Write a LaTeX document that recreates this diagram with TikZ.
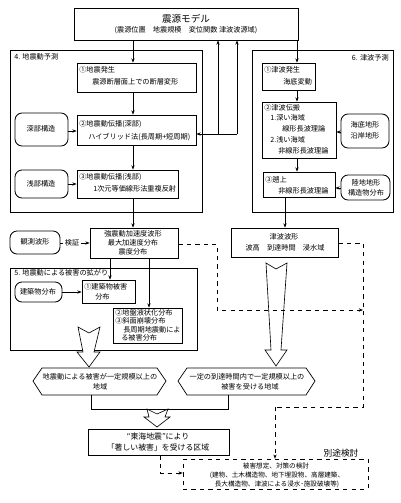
\documentclass[tikz,border=0pt]{standalone}
\usepackage{fontspec}
\setmainfont{Noto Sans CJK JP}
\usetikzlibrary{fit,arrows.meta}

\begin{document}
\begin{tikzpicture}[x=0.25mm, y=-0.25mm,
  every node/.style={inner sep=0pt, font=\fontsize{5.1}{6}\selectfont},
  box/.style={draw, line width=0.6pt, inner sep=0pt},
  area/.style={draw, line width=0.4pt, inner sep=0pt},
  rbox/.style={draw, line width=0.6pt, rounded corners=5pt, inner sep=0pt},
  dbox/.style={draw, dashed, line width=0.5pt, inner sep=0pt},
  arr/.style={-{Stealth[length=3pt,width=2.4pt]}, line width=0.45pt},
  darr/.style={arr, dashed},
  hollow/.style={draw, fill=white, line width=0.45pt}]
\useasboundingbox (0,0) rectangle (400,503);
\coordinate (cL) at (133,0);
\coordinate (cR) at (297,0);

% source model
\node[box, fit={(74,8) (298,40)}] (src) {};
\node[font=\fontsize{6.8}{8}\selectfont] (srct) at (186,19) {震源モデル};
\node (srcs) at (186,30) {(震源位置　地震規模　変位関数 津波波源域)};

% 4. ground motion
\node[area, fit={(10,50) (202,212)}] (gm) {};
\node[anchor=west] (gml) at (14,57) {4. 地震動予測};
\node[box, fit={(77,63) (196,92)}] (gm1) {};
\node[anchor=west] at (79,70) {①地震発生};
\node[anchor=west] at (92,82) {震源断層面上での断層変形};
\node[box, fit={(77,115) (196,145)}] (gm2) {};
\node[anchor=west] at (79,124) {②地震動伝播(深部)};
\node[anchor=west] at (88,137) {ハイブリッド法(長周期+短周期)};
\node[box, fit={(77,170) (178,198)}] (gm3) {};
\node[anchor=west] at (79,177) {③地震動伝播(浅部)};
\node[anchor=west] at (93,189) {1次元等価線形法重複反射};
\node[rbox, fit={(15,113) (68,146)}] (deep) {};
\node at (41,129) {深部構造};
\node[rbox, fit={(15,170) (68,198)}] (shal) {};
\node at (41,184) {浅部構造};
\draw[arr] (src.south -| cL) -- (gm1.north -| cL);
\draw[arr] (gm1.south -| cL) -- (gm2.north -| cL);
\draw[arr] (gm2.south -| cL) -- (gm3.north -| cL);
\draw[arr] (deep.east |- 0,131) -- (gm2.west |- 0,131);
\draw[arr] (shal) -- (gm3);

% links between source and deep propagation
\coordinate (fb1) at (218,134);
\coordinate (fb2) at (237,134);
\draw[arr] (fb2) -- (gm2.east |- fb2);
\draw[arr] (fb1) -- (src.south -| fb1);
\draw[arr] (fb2) -- (src.south -| fb2);

% strong motion
\node[box, fit={(90,228) (178,258)}] (sm) {};
\node at (133,234) {強震動加速度波形};
\node at (133,243) {最大加速度分布};
\node at (133,252) {震度分布};
\draw[arr] (gm3.south -| cL) -- (sm.north -| cL);
\node[rbox, fit={(10,231) (60,254)}] (obs) {};
\node at (35,242) {観測波形};
\node[fill=white, inner xsep=1pt] (ver) at (72,243) {検証};
\draw (obs.east |- ver) -- (ver.west);
\draw[arr] (ver.east) -- (sm.west |- ver);

% 5. damage
\node[area, fit={(10,268) (197,350)}] (dm) {};
\node[anchor=west] (dml) at (14,273) {5. 地震動による被害の拡がり};
\node[rbox, fit={(15,282) (62,302)}] (bld) {};
\node at (38,292) {建築物分布};
\node[box, fit={(82,280) (135,303)}] (dm1) {};
\node[anchor=west] at (84,287) {①建築物被害};
\node[anchor=west] at (95,297) {分布};
\node[box, fit={(113,308) (182,343)}] (dm2) {};
\node[anchor=west] at (115,313) {②地盤液状化分布};
\node[anchor=west] at (115,321) {③斜面崩壊分布};
\node[anchor=west] at (123,330) {長周期地震動によ};
\node[anchor=west] at (121,338) {る被害分布};
\draw[arr] (bld) -- (dm1.west |- bld);
\coordinate (s1) at (110,0);
\coordinate (s2) at (149,0);
\draw[arr] (sm.south -| s1) -- (dm1.north -| s1);
\draw[arr] (sm.south -| s2) -- (dm2.north -| s2);

% 6. tsunami
\node[area, fit={(252,50) (393,212)}] (ts) {};
\node[anchor=east] (tsl) at (389,58) {6. 津波予測};
\node[box, fit={(262,63) (315,90)}] (ts1) {};
\node[anchor=west] at (264,70) {①津波発生};
\node[anchor=west] at (283,82) {海底変動};
\node[box, fit={(262,102) (336,158)}] (ts2) {};
\node[anchor=west] at (264,108) {②津波伝搬};
\node[anchor=west] at (270,118) {1.深い海域};
\node[anchor=west] at (282,129) {線形長波理論};
\node[anchor=west] at (270,140) {2.浅い海域};
\node[anchor=west] at (278,151) {非線形長波理論};
\node[box, fit={(263,172) (335,197)}] (ts3) {};
\node[anchor=west] at (265,180) {③遡上};
\node[anchor=west] at (278,191) {非線形長波理論};
\node[rbox, fit={(341,114) (389,148)}] (sea) {};
\node at (365,125) {海底地形};
\node at (365,136) {沿岸地形};
\node[rbox, fit={(341,175) (390,200)}] (land) {};
\node at (366,183) {陸地地形};
\node at (366,193) {構造物分布};
\draw[arr] (src.south -| cR) -- (ts1.north -| cR);
\draw[arr] (ts1.south -| cR) -- (ts2.north -| cR);
\draw[arr] (ts2.south -| cR) -- (ts3.north -| cR);
\draw[arr] (sea.west |- 0,132) -- (ts2.east |- 0,132);
\draw[arr] (land.west |- 0,188) -- (ts3.east |- 0,188);

% tsunami waveform
\node[box, fit={(231,228) (338,257)}] (tw) {};
\node at (284,237) {津波波形};
\node at (285,248) {波高　到達時間　浸水域};
\coordinate (t1) at (285,0);
\draw[arr] (ts3.south -| t1) -- (tw.north -| t1);

% hollow arrows
\draw[hollow] (78,327) -- (89,333) -- (100,327) -- (94,352) -- (100,352)
  -- (89,367) -- (77,352) -- (83,352) -- cycle;
\draw[hollow] (266,263) -- (276,269) -- (287,263) -- (281,350) -- (287,350)
  -- (276,366) -- (265,350) -- (271,350) -- cycle;

% dashed links
\coordinate (d1) at (217,244);
\coordinate (d2) at (363,310);
\draw[darr] (sm.east |- d1) -- (d1) |- (d2);
\coordinate (d3) at (363,243);
\coordinate (d4) at (275,407);
\draw[dashed, line width=0.5pt] (tw.east |- d3) -- (d3) |- (d4);

% hexagons
\draw[line width=0.5pt] (33,381) -- (42,368) -- (157,368) -- (166,381)
  -- (157,395) -- (42,395) -- cycle;
\node (hx1) at (100,377) {地震動による被害が一定規模以上の};
\node at (100,387) {地域};
\draw[line width=0.5pt] (178,381) -- (187,368) -- (306,368) -- (315,381)
  -- (306,395) -- (187,395) -- cycle;
\node (hx2) at (247,377) {一定の到達時間内で一定規模以上の};
\node at (250,387) {被害を受ける地域};
\draw[line width=0.5pt] (91,395) -- (91,409) -- (228,409) -- (228,395);
\draw[hollow] (147,409) -- (157,414) -- (168,409) -- (165,417) -- (170,417)
  -- (157,427) -- (144,417) -- (149,417) -- cycle;

% result
\node[box, fit={(88,429) (229,455)}] (tk) {};
\node[font=\fontsize{5.6}{7}\selectfont] at (158,437) {“東海地震”により};
\node[font=\fontsize{5.6}{7}\selectfont] at (158,448) {「著しい被害」を受ける区域};

% separate study
\node[dbox, fit={(183,459) (368,489)}] (sep) {};
\node[font=\fontsize{6.2}{7}\selectfont] (sepl) at (341,453) {別途検討};
\node[font=\fontsize{4.7}{6}\selectfont] at (276,466) {被害想定、対策の検討};
\node[font=\fontsize{4.7}{6}\selectfont] at (277,475) {(建物、土木構造物、地下埋設物、高層建築、};
\node[font=\fontsize{4.7}{6}\selectfont] at (277,484) {長大構造物、津波による浸水･施設破壊等)};
\draw[darr] (d4) -- (sep.north -| d4);
\coordinate (d5) at (160,473);
\draw[darr] (tk.south -| d5) -- (d5) -- (sep.west |- d5);
\end{tikzpicture}
\end{document}
